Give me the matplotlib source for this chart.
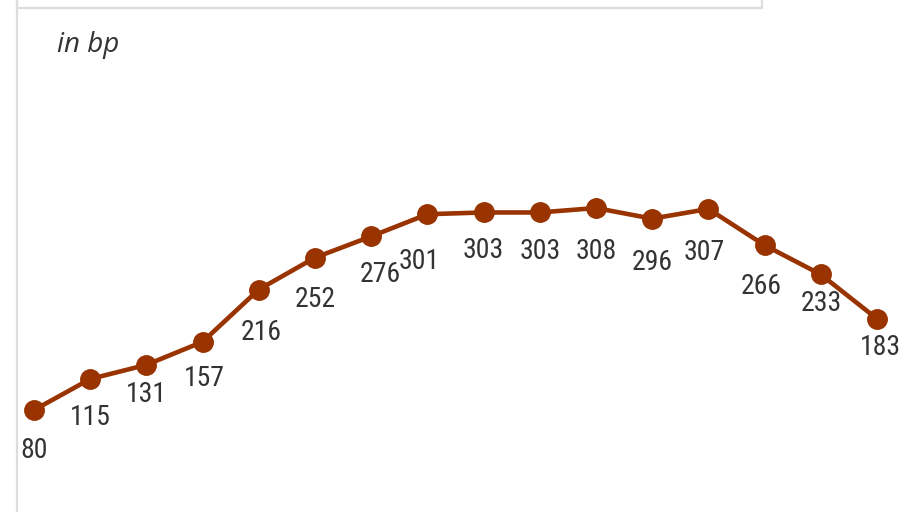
import matplotlib.pyplot as plt
from matplotlib.patches import Rectangle

# values in basis points
values = [80, 115, 131, 157, 216, 252, 276, 301, 303, 303, 308, 296, 307, 266, 233, 183]
unit_label = "in bp"

# label nudges in pixels (dx, dy below the point)
label_dx = [0, 0, 0, 2, 2, 0, 9, -8, 0, 0, 0, 0, -4, -3, 1, 3]
label_dy = [40, 38, 30, 37, 43, 42, 38, 47, 38, 39, 43, 44, 44, 41, 29, 29]

line_color = "#993300"

fig = plt.figure(figsize=(9.02, 5.12), dpi=100)
ax = fig.add_axes([0, 0, 1, 1])
x = list(range(len(values)))
ax.plot(x, values, color=line_color, lw=3.3, marker="o", markersize=14,
        solid_capstyle="round", zorder=3)

ax.set_xlim(-0.605, 15.445)
ax.set_ylim(-35.1, 542.8)
ax.axis("off")

# value labels
for i, v in enumerate(values):
    # points per pixel = 72/100
    ax.annotate(str(v), (i, v), xytext=(label_dx[i] * 0.72, -label_dy[i] * 0.72),
                textcoords="offset points", ha="center", va="center",
                fontsize=20, color="#333333",
                family=["Roboto Condensed", "Liberation Sans Narrow", "Roboto"])

# frame pieces: left rule and top box
fig.add_artist(plt.Line2D([17 / 902, 17 / 902], [0, 1], color="#dddddd", lw=1.6,
                          transform=fig.transFigure))
fig.add_artist(Rectangle((17 / 902, 1 - 8 / 512), (762 - 17) / 902, 0.2,
                         transform=fig.transFigure, fill=False,
                         edgecolor="#dddddd", lw=1.6))

fig.text(57 / 902, 1 - 45 / 512, unit_label, fontsize=20, style="italic",
         color="#333333", va="center", ha="left", family="Open Sans")

fig.savefig("out.png", dpi=100)
